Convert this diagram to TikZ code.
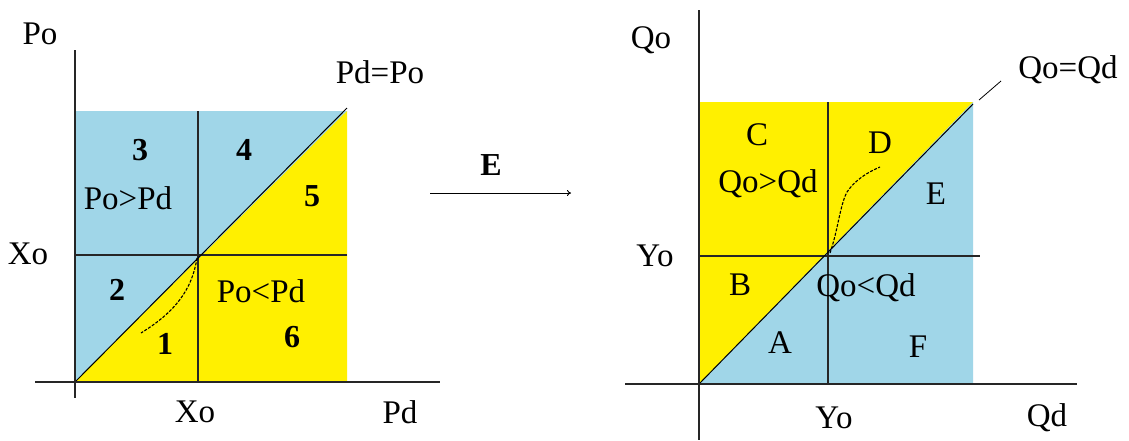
\documentclass[tikz,border=0pt]{standalone}
\usepackage{fontspec}
\setmainfont{Liberation Serif}
\usetikzlibrary{arrows.meta}
\definecolor{cblue}{RGB}{160,214,232}
\definecolor{cyel}{RGB}{255,240,0}
\tikzset{
  lab/.style={font=\fontsize{33}{38}\selectfont, inner sep=0pt},
  num/.style={font=\fontsize{32}{37}\selectfont\bfseries, inner sep=0pt},
  axis/.style={line width=1.3pt, black!85},
  grid/.style={line width=1.1pt, black!85},
  diag/.style={line width=1pt, black},
  curve/.style={line width=1.1pt, dash pattern=on 3pt off 1.5pt},
}
\begin{document}
\begin{tikzpicture}[x=1pt,y=-1pt]
\useasboundingbox (0,0) rectangle (1129,440);
\fill[white] (0,0) rectangle (1129,440);
% ---------- left diagram ----------
\fill[cblue] (75,111) rectangle (347,382);
\fill[cyel] (75,382) -- (347,111) -- (347,382) -- cycle;
\draw[grid] (198,111) -- (198,382);
\draw[grid] (75,255) -- (347,255);
\draw[diag] (75,382) -- (347,108);
\draw[axis] (75,50) -- (75,398);
\draw[axis] (35,382) -- (440,382);
\draw[curve] (197,258) .. controls (192,290) and (175,312) .. (141,333);
\node[lab] (po) at (40,34) {Po};
\node[lab] (pdpo) at (380,72) {Pd=Po};
\node[lab] (xol) at (28,254) {Xo};
\node[lab] (xob) at (195,412) {Xo};
\node[lab] (pd) at (400,412) {Pd};
\node[num] (n3) at (140,150) {3};
\node[num] (n4) at (244,150) {4};
\node[lab] (pgt) at (128,198) {Po>Pd};
\node[num] (n5) at (312,196) {5};
\node[num] (n2) at (117,290) {2};
\node[lab] (plt) at (261,291) {Po<Pd};
\node[num] (n1) at (165,344) {1};
\node[num] (n6) at (292,337) {6};
% ---------- arrow ----------
\node[num] (E) at (491,165) {E};
\coordinate (as) at (430,193);
\coordinate (ae) at (571,193);
\draw[line width=0.9pt, -{To[length=4pt,width=6pt]}] (as) -- (ae);
% ---------- right diagram ----------
\fill[cyel] (699,102) rectangle (973,384);
\fill[cblue] (699,384) -- (973,102) -- (973,384) -- cycle;
\draw[grid] (828,102) -- (828,384);
\draw[grid] (699,256) -- (980,256);
\draw[diag] (699,384) -- (973,104);
\draw[axis] (699,10) -- (699,440);
\draw[axis] (625,384) -- (1077,384);
\draw[curve] (830,253) .. controls (838,230) and (840,205) .. (847,192) .. controls (855,180) and (868,172) .. (880,167);
\coordinate (l1) at (979,100);
\coordinate (l2) at (1001,81);
\draw[line width=0.8pt] (l1) -- (l2);
\node[lab] (qo) at (651,40) {Qo};
\node[lab] (qoqd) at (1068,70) {Qo=Qd};
\node[lab] (yol) at (655,256) {Yo};
\node[lab] (yob) at (834,418) {Yo};
\node[lab] (qd) at (1047,418) {Qd};
\node[lab] (C) at (757,135) {C};
\node[lab] (D) at (880,143) {D};
\node[lab] (qgt) at (768,184) {Qo>Qd};
\node[lab] (Ee) at (936,194) {E};
\node[lab] (B) at (740,285) {B};
\node[lab] (qlt) at (866,288) {Qo<Qd};
\node[lab] (A) at (780,343) {A};
\node[lab] (F) at (918,347) {F};
\end{tikzpicture}
\end{document}
